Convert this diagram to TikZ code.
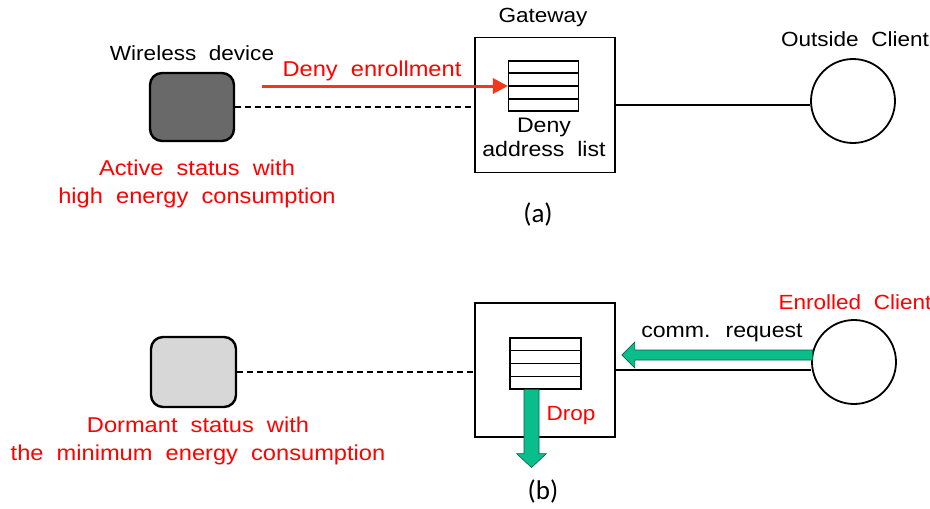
\documentclass[tikz,border=0pt]{standalone}
\usepackage{fontspec}
\setmainfont{Liberation Sans}
\newfontfamily\gul{Liberation Sans}[FakeStretch=1.1]
\newfontfamily\gulw{Liberation Sans}[FakeStretch=1.1,WordSpace=2]
\newfontfamily\carl{Carlito}
\usetikzlibrary{arrows.meta,calc}
\definecolor{txtred}{RGB}{255,0,0}
\definecolor{arrred}{RGB}{245,55,25}
\definecolor{grn}{RGB}{10,190,140}
\definecolor{grnline}{RGB}{0,100,70}
\definecolor{darkdev}{RGB}{105,105,105}
\definecolor{lightdev}{RGB}{215,215,215}
\begin{document}
\begin{tikzpicture}[x=1pt,y=-1pt,
  device/.style={draw, line width=2.4pt, rounded corners=12pt, minimum width=84pt, minimum height=68pt, inner sep=0pt},
  gwbox/.style={draw, line width=1.8pt, minimum width=140pt, minimum height=135pt, inner sep=0pt},
  client/.style={draw, circle, line width=1.8pt, minimum size=84pt, inner sep=0pt},
  lst/.style={draw, line width=1.1pt, minimum width=70pt, minimum height=50pt, inner sep=0pt, fill=white},
  blk/.style={font=\gul\fontsize{20.5}{24}\selectfont, inner sep=0pt},
  blkw/.style={font=\gulw\fontsize{21}{24}\selectfont, inner sep=0pt, align=center},
  redl/.style={font=\gul\fontsize{20.5}{24}\selectfont, text=txtred, inner sep=0pt},
  redw/.style={font=\gulw\fontsize{21.5}{28.5}\selectfont, text=txtred, inner sep=0pt, align=center},
  captext/.style={font=\carl\fontsize{27}{30}\selectfont, inner sep=0pt},
  greenarrow/.style={fill=grn, draw=grnline, line width=0.6pt, line join=miter},
  dashedline/.style={dashed, dash pattern=on 6pt off 4pt, line width=1.8pt},
  solidline/.style={line width=1.8pt}
]
\useasboundingbox (0,0) rectangle (930,509);

% ---------- (a) ----------
\node[device, fill=darkdev] (dev1) at (192,107) {};
\node[gwbox] (gw1) at (545,105) {};
\node[lst] (list1) at (543.5,86) {};
\foreach \i in {1,2,3}
  \draw[line width=1.7pt] ($(list1.north west)!\i/4!(list1.south west)$) -- ($(list1.north east)!\i/4!(list1.south east)$);
\node[client] (c1) at (853,101) {};

\draw[dashedline] (dev1.east) -- (gw1.west |- dev1.east);
\draw[solidline] (gw1.east) -- (gw1.east -| c1.west);

\coordinate (rstart) at (262,86);
\draw[arrred, line width=3pt, -{Triangle[length=15pt,width=15pt]}] (rstart) -- (list1.west);

\node[blk] (lwd) at (192,53) {Wireless device};
\node[blk] (lgw) at (543,17) {Gateway};
\node[blk] (loc) at (855,39) {Outside Client};
\node[redw] (lde) at (372,71) {Deny enrollment};
\node[blkw] (ldal) at (544,137) {Deny\\address list};
\node[redw] (las) at (197,184) {Active status with\\high energy consumption};
\node[captext] (la) at (538,214) {(a)};

% ---------- (b) ----------
\node[device, fill=lightdev, minimum width=85pt, minimum height=70pt] (dev2) at (193.5,372) {};
\node[gwbox, minimum height=134pt] (gw2) at (545,370) {};
\node[lst, minimum width=71pt, minimum height=51pt] (list2) at (545.5,363.5) {};
\foreach \i in {1,2,3}
  \draw[line width=1.7pt] ($(list2.north west)!\i/4!(list2.south west)$) -- ($(list2.north east)!\i/4!(list2.south east)$);
\node[client] (c2) at (854,362) {};

\draw[dashedline] (dev2.east) -- (gw2.west |- dev2.east);
\draw[solidline] (gw2.east) -- (gw2.east -| c2.west);

% drop arrow
\coordinate (dtop) at ($(list2.south)+(-14,0)$);
\draw[greenarrow] ($(dtop)+(-7.5,0)$) -- ++(0,64) -- ++(-7.5,0) -- ++(15,14) -- ++(15,-14) -- ++(-7.5,0) -- ++(0,-64) -- cycle;

% request arrow
\coordinate (rq) at ($(c2.center)+(-41.5,-7)$);
\coordinate (rqtip) at ($(gw2.east |- rq)+(6,0)$);
\draw[greenarrow] ($(rq)+(0,-5)$) -- ($(rqtip)+(13,-5)$) -- ($(rqtip)+(13,-13)$) -- (rqtip) -- ($(rqtip)+(13,13)$) -- ($(rqtip)+(13,5)$) -- ($(rq)+(0,5)$) -- cycle;

\node[redl] (lec) at (855,302) {Enrolled Client};
\node[blkw] (lcr) at (722,333) {comm. request};
\node[redl] (ldrop) at (571,416) {Drop};
\node[redw] (lds) at (198,441) {Dormant status with\\the minimum energy consumption};
\node[captext] (lb) at (543,491) {(b)};
\end{tikzpicture}
\end{document}
